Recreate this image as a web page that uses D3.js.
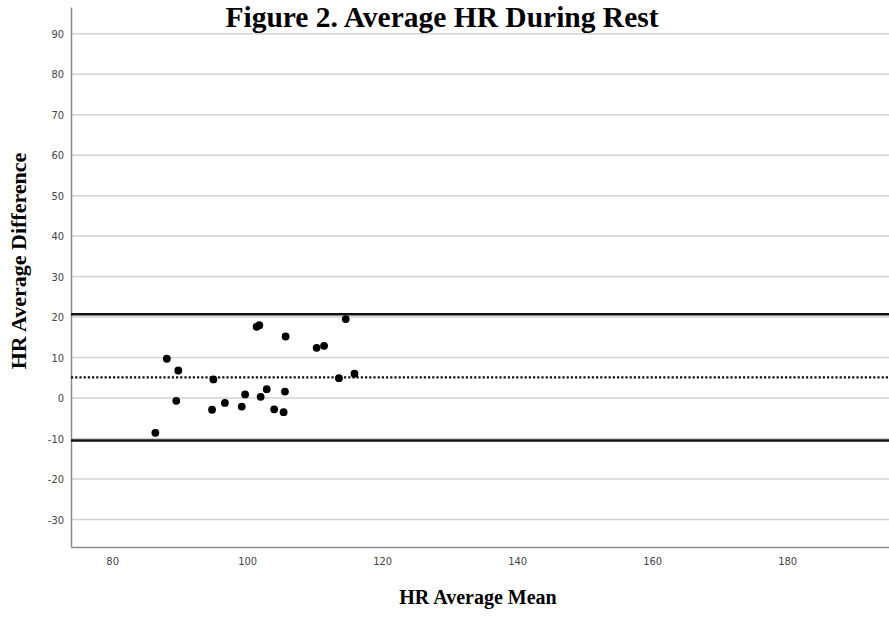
<!DOCTYPE html>
<html><head><meta charset="utf-8">
<script src="https://cdn.jsdelivr.net/npm/d3@7"></script>
<style>body{margin:0;background:#fff}</style>
</head><body>
<svg id="c" width="889" height="618"></svg>
<script>
const meanHR = [86.4,88.1,89.8,89.5,95.0,94.8,96.7,99.2,99.7,101.4,101.8,102.0,102.9,104.0,105.4,105.6,105.7,110.3,111.4,113.6,114.6,115.9];
const diffHR = [-8.6,9.7,6.8,-0.7,4.6,-2.9,-1.2,-2.1,0.9,17.6,18.0,0.3,2.2,-2.8,-3.5,1.6,15.2,12.4,12.9,4.9,19.5,6.0];
const meanDiff = 5.1, upperLoA = 20.7, lowerLoA = -10.5;
const xTicks = [80,100,120,140,160,180];
const yTicks = [-30,-20,-10,0,10,20,30,40,50,60,70,80,90];
const title = "Figure 2. Average HR During Rest";
const xLabel = "HR Average Mean", yLabel = "HR Average Difference";

const svg = d3.select("#c");
const x = d3.scaleLinear().domain([73.9,195.1]).range([71,889]);
const y = d3.scaleLinear().domain([-36.8,96.6]).range([547,7]);

// gridlines
svg.append("g").selectAll("line").data(yTicks).join("line")
  .attr("x1",x.range()[0]).attr("x2",x.range()[1])
  .attr("y1",d=>y(d)).attr("y2",d=>y(d))
  .attr("stroke","#d2d2d2").attr("stroke-width",1.5);

// axes
const fmt = d => String(d);
const yAx = svg.append("g").attr("transform",`translate(${x.range()[0]},0)`)
  .call(d3.axisLeft(y).tickValues(yTicks).tickFormat(fmt).tickSize(0).tickPadding(7));
const xAx = svg.append("g").attr("transform",`translate(0,${y.range()[0]})`)
  .call(d3.axisBottom(x).tickValues(xTicks).tickFormat(fmt).tickSize(0).tickPadding(10));
[yAx,xAx].forEach(a=>{
  a.select(".domain").attr("stroke","#8a8a8a").attr("stroke-width",1.5);
  a.selectAll("text").attr("font-family","'DejaVu Sans Condensed','DejaVu Sans',sans-serif")
    .attr("font-size",11).attr("fill","#444");
});

// limit lines
svg.append("g").selectAll("line").data([upperLoA,lowerLoA]).join("line")
  .attr("x1",x.range()[0]).attr("x2",x.range()[1])
  .attr("y1",d=>y(d)).attr("y2",d=>y(d))
  .attr("stroke","#111").attr("stroke-width",2.6);
svg.append("line").attr("x1",x.range()[0]).attr("x2",x.range()[1])
  .attr("y1",y(meanDiff)).attr("y2",y(meanDiff))
  .attr("stroke","#111").attr("stroke-width",2.4).attr("stroke-dasharray","2.2,2");

// points
svg.append("g").selectAll("circle").data(meanHR).join("circle")
  .attr("cx",d=>x(d)).attr("cy",(d,i)=>y(diffHR[i])).attr("r",3.9).attr("fill","#000");

// texts
const serif = "'Liberation Serif','Times New Roman',serif";
svg.append("text").attr("x",442).attr("y",27).attr("text-anchor","middle")
  .attr("font-family",serif).attr("font-weight","bold").attr("font-size",29.5).text(title);
svg.append("text").attr("x",478).attr("y",604).attr("text-anchor","middle")
  .attr("font-family",serif).attr("font-weight","bold").attr("font-size",20).text(xLabel);
svg.append("text").attr("transform","translate(26,261) rotate(-90)").attr("text-anchor","middle")
  .attr("font-family",serif).attr("font-weight","bold").attr("font-size",22).text(yLabel);
</script>
</body></html>
